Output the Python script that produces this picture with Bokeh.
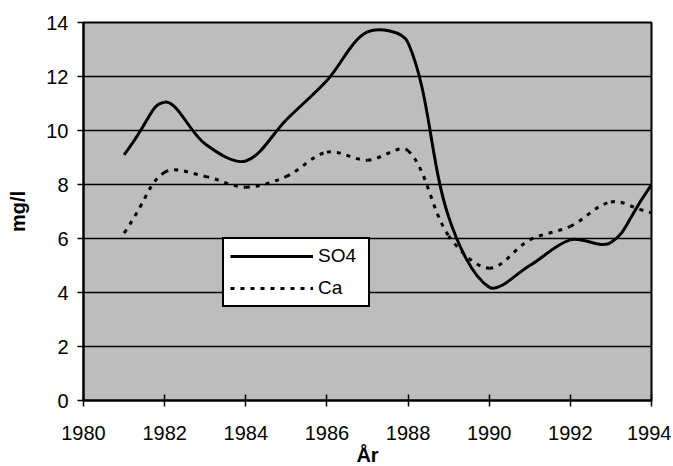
import math
from bokeh.plotting import figure
from bokeh.models import Legend, LegendItem, FixedTicker, ColumnDataSource
from bokeh.embed import file_html
from bokeh.resources import INLINE

years = [1981, 1982, 1983, 1984, 1985, 1986, 1987, 1988, 1989, 1990, 1991, 1992, 1993, 1994]
so4 = [9.1, 11.05, 9.5, 8.87, 10.4, 11.85, 13.65, 13.25, 6.8, 4.2, 5.0, 5.95, 5.85, 8.0]
ca = [6.2, 8.45, 8.3, 7.9, 8.3, 9.2, 8.9, 9.25, 6.1, 4.9, 5.95, 6.45, 7.35, 6.95]

x_ticks = [1980, 1982, 1984, 1986, 1988, 1990, 1992, 1994]
y_ticks = [0, 2, 4, 6, 8, 10, 12, 14]
x_label = "År"
y_label = "mg/l"
series_names = ["SO4", "Ca"]

FONT = "Liberation Sans"
FRAME_W, FRAME_H = 568, 378
X0, X1, Y0, Y1 = 1980, 1994, 0, 14


def smooth_segments(xs, ys):
    """Bezier control points for a smoothed line (distance-weighted, spreadsheet style)."""
    sx = FRAME_W / (X1 - X0)
    sy = FRAME_H / (Y1 - Y0)
    n = len(xs)

    def dist(i, j):
        return math.hypot((xs[j] - xs[i]) * sx, (ys[j] - ys[i]) * sy)

    before, after = [], []
    for i in range(n):
        ip = max(i - 1, 0)
        inx = min(i + 1, n - 1)
        tx, ty = xs[inx] - xs[ip], ys[inx] - ys[ip]
        d1 = dist(ip, i)
        d2 = dist(i, inx)
        tot = d1 + d2 if d1 + d2 > 0 else 1.0
        k = 2 if i == 0 or i == n - 1 else 1
        f1 = d1 / tot / 3.0 * k
        f2 = d2 / tot / 3.0 * k
        before.append((xs[i] - tx * f1, ys[i] - ty * f1))
        after.append((xs[i] + tx * f2, ys[i] + ty * f2))
    d = dict(x0=[], y0=[], x1=[], y1=[], cx0=[], cy0=[], cx1=[], cy1=[])
    for i in range(n - 1):
        d["x0"].append(xs[i]); d["y0"].append(ys[i])
        d["x1"].append(xs[i + 1]); d["y1"].append(ys[i + 1])
        d["cx0"].append(after[i][0]); d["cy0"].append(after[i][1])
        d["cx1"].append(before[i + 1][0]); d["cy1"].append(before[i + 1][1])
    return ColumnDataSource(d)


p = figure(frame_width=FRAME_W, frame_height=FRAME_H, x_range=(X0, X1), y_range=(Y0, Y1),
           output_backend="svg", toolbar_location=None,
           min_border_left=83, min_border_right=20, min_border_top=22, min_border_bottom=40,
           background_fill_color="#bdbdbd", border_fill_color="white")

p.outline_line_color = "black"
p.outline_line_width = 2

p.xgrid.grid_line_color = None
p.ygrid.grid_line_color = "black"
p.ygrid.grid_line_width = 1.5
p.ygrid.ticker = FixedTicker(ticks=y_ticks)

p.xaxis.ticker = FixedTicker(ticks=x_ticks)
p.yaxis.ticker = FixedTicker(ticks=y_ticks)

for ax in (p.xaxis, p.yaxis):
    ax.axis_line_color = "black"
    ax.axis_line_width = 2
    ax.major_tick_line_color = "black"
    ax.major_tick_line_width = 1.5
    ax.minor_tick_line_color = None
    ax.major_label_text_font = FONT
    ax.major_label_text_color = "black"
    ax.axis_label_text_font = FONT
    ax.axis_label_text_font_style = "bold"
    ax.axis_label_text_font_size = "20px"
    ax.axis_label_text_color = "black"

p.xaxis.major_tick_in = 6
p.xaxis.major_tick_out = 6
p.xaxis.major_label_standoff = 19
p.xaxis.major_label_text_font_size = "20px"
p.xaxis.axis_label = x_label
p.xaxis.axis_label_standoff = 1

p.yaxis.major_tick_in = 0
p.yaxis.major_tick_out = 6
p.yaxis.major_label_standoff = 9
p.yaxis.major_label_text_font_size = "20px"
p.yaxis.axis_label = y_label
p.yaxis.axis_label_standoff = 14

src_so4 = smooth_segments(years, so4)
src_ca = smooth_segments(years, ca)

r_so4 = p.bezier(x0="x0", y0="y0", x1="x1", y1="y1", cx0="cx0", cy0="cy0", cx1="cx1", cy1="cy1",
                 source=src_so4, line_color="black", line_width=3)
r_ca = p.bezier(x0="x0", y0="y0", x1="x1", y1="y1", cx0="cx0", cy0="cy0", cx1="cx1", cy1="cy1",
                source=src_ca, line_color="black", line_width=3, line_dash="4 6")

legend = Legend(items=[LegendItem(label=series_names[0], renderers=[r_so4]),
                       LegendItem(label=series_names[1], renderers=[r_ca])],
                location=(139, 93), orientation="vertical")
legend.background_fill_color = "white"
legend.background_fill_alpha = 1.0
legend.border_line_color = "black"
legend.border_line_alpha = 1.0
legend.border_line_width = 2
legend.label_text_font = FONT
legend.label_text_font_size = "19px"
legend.label_text_color = "black"
legend.glyph_width = 83
legend.glyph_height = 20
legend.label_height = 20
legend.label_width = 44
legend.label_standoff = 5
legend.spacing = 10
legend.padding = 6
legend.margin = 0
p.add_layout(legend, "center")

open("out.html", "w").write(file_html(p, INLINE))
